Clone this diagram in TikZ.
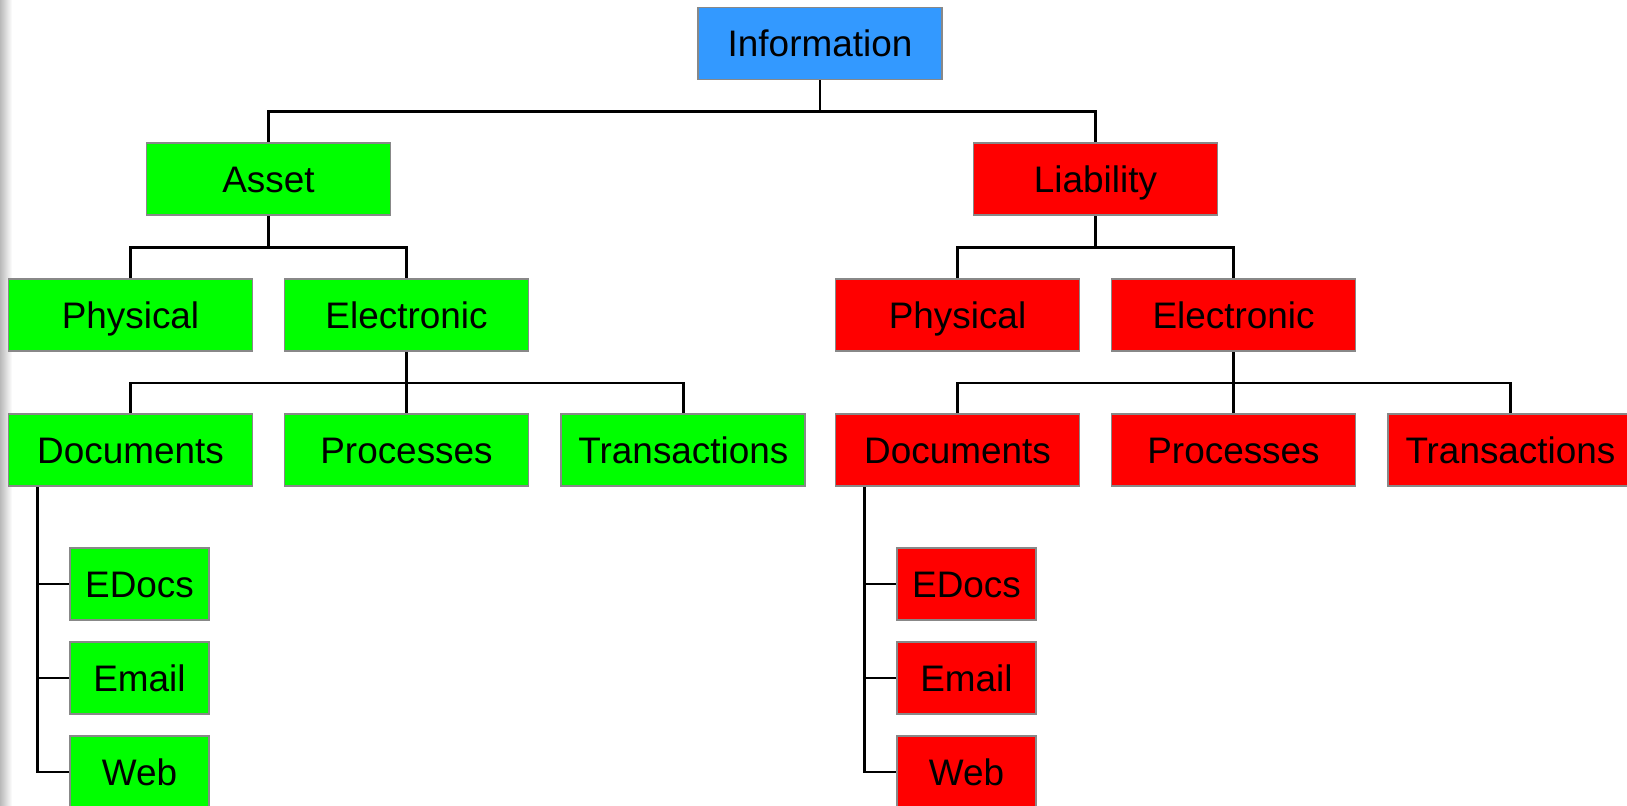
\documentclass[tikz,border=0pt]{standalone}
\usepackage{fontspec}
\setmainfont{Liberation Sans}
\usepackage{tikz}
\usetikzlibrary{positioning, calc}
\usepackage{xcolor}
\definecolor{ibBlue}{HTML}{3399FF}
\definecolor{ibGreen}{HTML}{00FF00}
\definecolor{ibRed}{HTML}{FF0000}
\definecolor{ibFrame}{HTML}{888888}
\tikzstyle{cat} = [%
  rectangle,
  draw=ibFrame,
  line width=1.1pt,
  minimum width=4.88cm,
  minimum height=1.44cm,
  inner sep=0pt,
  text height=15.1pt,
  text depth=0pt,
  text=black,
  font=\fontsize{21}{25}\selectfont
]
\tikzstyle{leaf} = [cat, minimum width=2.78cm]

\begin{document}
\begin{tikzpicture}[%
  bus/.style={draw=black, line width=1.25pt},
  asset/.style={fill=ibGreen},
  liab/.style={fill=ibRed}
]
  \useasboundingbox (0,0) rectangle (32.54,-16.1);
  \shade[left color=gray!55, right color=white] (0,0) rectangle (0.24,-16.1);

  % Root
  \node[cat, fill=ibBlue] (Info) at (16.4,-0.87) {Information};

  % Asset branch
  \node[cat, asset, below=1.24cm of Info, xshift=-11.03cm] (Asset) {Asset};
  \node[cat, asset, below=1.24cm of Asset, xshift=-2.76cm] (PhysA) {Physical};
  \node[cat, asset, below=1.24cm of Asset, xshift=+2.76cm] (ElecA) {Electronic};
  \node[cat, asset, below=1.22cm of PhysA] (DocA) {Documents};
  \node[cat, asset, below=1.22cm of ElecA] (ProcA) {Processes};
  \node[cat, asset, right=0.62cm of ProcA] (TransA) {Transactions};
  \node[leaf, asset, below=1.2cm of DocA, xshift=0.18cm] (EDocA) {EDocs};
  \node[leaf, asset, below=0.4cm of EDocA] (MailA) {Email};
  \node[leaf, asset, below=0.4cm of MailA] (WebA) {Web};

  % Liability branch
  \node[cat, liab, below=1.24cm of Info, xshift=+5.51cm] (Liab) {Liability};
  \node[cat, liab, below=1.24cm of Liab, xshift=-2.76cm] (PhysL) {Physical};
  \node[cat, liab, below=1.24cm of Liab, xshift=+2.76cm] (ElecL) {Electronic};
  \node[cat, liab, below=1.22cm of PhysL] (DocL) {Documents};
  \node[cat, liab, below=1.22cm of ElecL] (ProcL) {Processes};
  \node[cat, liab, right=0.62cm of ProcL] (TransL) {Transactions};
  \node[leaf, liab, below=1.2cm of DocL, xshift=0.18cm] (EDocL) {EDocs};
  \node[leaf, liab, below=0.4cm of EDocL] (MailL) {Email};
  \node[leaf, liab, below=0.4cm of MailL] (WebL) {Web};

  % Tree edges
  \draw[bus] (Info.south) -- ++(0,-0.62) -| (Asset.north);
  \draw[bus] (Info.south) -- ++(0,-0.62) -| (Liab.north);

  \draw[bus] (Asset.south) -- ++(0,-0.62) -| (PhysA.north);
  \draw[bus] (Asset.south) -- ++(0,-0.62) -| (ElecA.north);
  \draw[bus] (ElecA.south) -- ++(0,-0.61) -| (DocA.north);
  \draw[bus] (ElecA.south) -- ++(0,-0.61) -| (ProcA.north);
  \draw[bus] (ElecA.south) -- ++(0,-0.61) -| (TransA.north);

  \draw[bus] (Liab.south) -- ++(0,-0.62) -| (PhysL.north);
  \draw[bus] (Liab.south) -- ++(0,-0.62) -| (ElecL.north);
  \draw[bus] (ElecL.south) -- ++(0,-0.61) -| (DocL.north);
  \draw[bus] (ElecL.south) -- ++(0,-0.61) -| (ProcL.north);
  \draw[bus] (ElecL.south) -- ++(0,-0.61) -| (TransL.north);

  % Document leaves
  \draw[bus] ([xshift=0.6cm]DocA.south west) |- (EDocA.west);
  \draw[bus] ([xshift=0.6cm]DocA.south west) |- (MailA.west);
  \draw[bus] ([xshift=0.6cm]DocA.south west) |- (WebA.west);
  \draw[bus] ([xshift=0.6cm]DocL.south west) |- (EDocL.west);
  \draw[bus] ([xshift=0.6cm]DocL.south west) |- (MailL.west);
  \draw[bus] ([xshift=0.6cm]DocL.south west) |- (WebL.west);

\end{tikzpicture}
\end{document}
